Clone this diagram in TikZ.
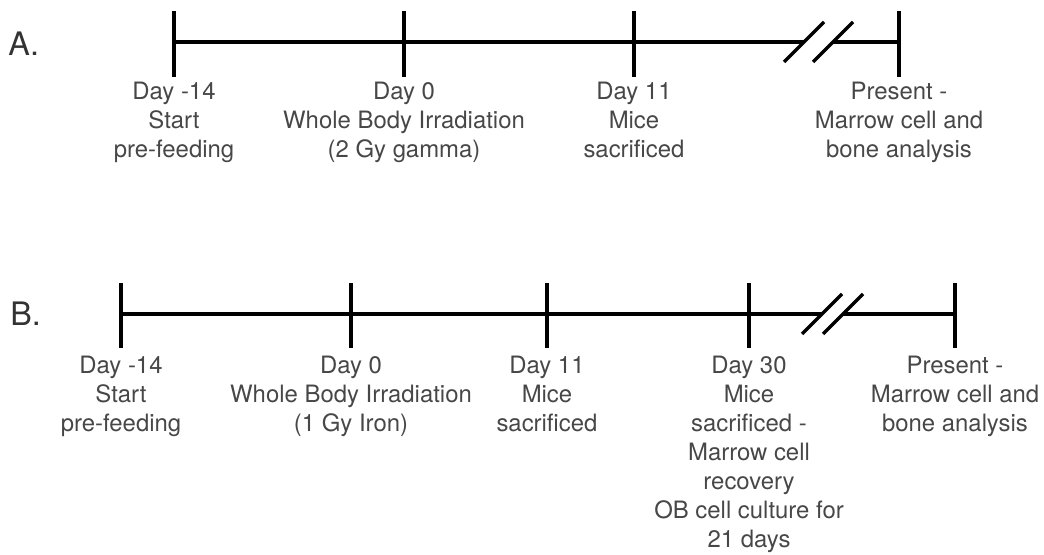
\documentclass[tikz,border=0pt]{standalone}
\usepackage{fontspec}
\setmainfont{TeX Gyre Heros}
\tikzset{
  axis/.style={line width=2.3pt, black},
  daylabel/.style={anchor=north, align=center, inner sep=0pt, text=black!72,
    font=\fontsize{17}{20.6}\selectfont},
  panel/.style={anchor=base west, inner sep=0pt, text=black!80,
    font=\fontsize{23}{23}\selectfont}
}
\begin{document}
\begin{tikzpicture}[x=0.025cm, y=-0.025cm]
    \useasboundingbox (0, 0) rectangle (1044, 554);

    % timeline A
    \node[panel] at (8, 55) (pa) {A.};
    \coordinate (a1) at (174, 42);
    \coordinate (a2) at (404, 42);
    \coordinate (a3) at (634, 42);
    \coordinate (a4) at (899, 42);
    \coordinate (abl) at (804, 42);
    \coordinate (abr) at (833, 42);

    \draw[axis] (a1) -- (abl);
    \draw[axis] (abr) -- (a4);
    \draw[axis] (abl) ++(-20, 20) -- ++(40, -40);
    \draw[axis] (abr) ++(-20, 20) -- ++(40, -40);

    \draw[axis] (a1) ++(0, -31) -- ++(0, 66);
    \draw[axis] (a2) ++(0, -31) -- ++(0, 66);
    \draw[axis] (a3) ++(0, -31) -- ++(0, 66);
    \draw[axis] (a4) ++(0, -31) -- ++(0, 66);

    \node[daylabel] at (174, 82) (la1) {Day -14\\Start\\pre-feeding};
    \node[daylabel] at (404, 82) (la2) {Day 0\\Whole Body Irradiation\\(2 Gy gamma)};
    \node[daylabel] at (634, 82) (la3) {Day 11\\Mice\\sacrificed};
    \node[daylabel] at (899, 82) (la4) {Present -\\Marrow cell and\\bone analysis};

    % timeline B
    \node[panel] at (10, 325) (pb) {B.};
    \coordinate (b1) at (121, 314);
    \coordinate (b2) at (351, 314);
    \coordinate (b3) at (547, 314);
    \coordinate (b4) at (749, 314);
    \coordinate (b5) at (955, 314);
    \coordinate (bbl) at (822, 314);
    \coordinate (bbr) at (843, 314);

    \draw[axis] (b1) -- (bbl);
    \draw[axis] (bbr) -- (b5);
    \draw[axis] (bbl) ++(-20, 20) -- ++(40, -40);
    \draw[axis] (bbr) ++(-20, 20) -- ++(40, -40);

    \draw[axis] (b1) ++(0, -31) -- ++(0, 65);
    \draw[axis] (b2) ++(0, -31) -- ++(0, 65);
    \draw[axis] (b3) ++(0, -31) -- ++(0, 65);
    \draw[axis] (b4) ++(0, -31) -- ++(0, 65);
    \draw[axis] (b5) ++(0, -31) -- ++(0, 65);

    \node[daylabel] at (121, 356) (lb1) {Day -14\\Start\\pre-feeding};
    \node[daylabel] at (351, 356) (lb2) {Day 0\\Whole Body Irradiation\\(1 Gy Iron)};
    \node[daylabel] at (547, 356) (lb3) {Day 11\\Mice\\sacrificed};
    \node[daylabel] at (749, 356) (lb4) {Day 30\\Mice\\sacrificed -\\Marrow cell\\recovery\\OB cell culture for\\21 days};
    \node[daylabel] at (955, 356) (lb5) {Present -\\Marrow cell and\\bone analysis};

\end{tikzpicture}
\end{document}
